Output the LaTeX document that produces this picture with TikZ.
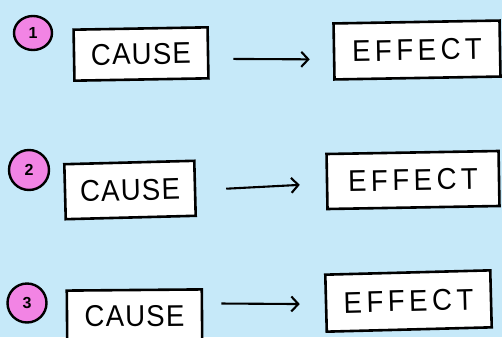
\documentclass[tikz,border=0pt]{standalone}
\usepackage{fontspec}
\setmainfont{Liberation Sans}
\newfontfamily\causefont[LetterSpace=4,FakeStretch=0.92]{Liberation Sans}
\newfontfamily\effectfont[LetterSpace=15,FakeStretch=0.92]{Liberation Sans}
\usetikzlibrary{arrows.meta,shapes.geometric}
\definecolor{bgblue}{HTML}{C6E9F9}
\definecolor{pinkc}{HTML}{F284E4}
\begin{document}
\begin{tikzpicture}[x=1pt,y=-1pt,
  box/.style={draw=black, fill=white, line width=2.6pt, rectangle, inner sep=0pt},
  causebox/.style={box, font=\causefont\fontsize{30}{32}\selectfont},
  effectbox/.style={box, font=\effectfont\fontsize{30}{32}\selectfont},
  num/.style={draw=black, fill=pinkc, line width=2.4pt, circle, inner sep=0pt,
    font=\bfseries\fontsize{16}{17}\selectfont},
  arr/.style={line width=2.1pt, -{Straight Barb[length=7pt,width=15pt,line width=2.1pt]}}]
\fill[bgblue] (0,0) rectangle (502,337);
\useasboundingbox (0,0) rectangle (502,337);
% numbers
\node[num, ellipse, minimum width=38pt, minimum height=34pt] (n1) at (33,33) {1};
\node[num, minimum size=40pt] (n2) at (29,170) {2};
\node[num, minimum size=39pt] (n3) at (27,303) {3};
% row 1
\node[causebox, minimum width=134pt, minimum height=51pt, rotate=1] (c1) at (141,54) {CAUSE};
\node[effectbox, minimum width=166pt, minimum height=56pt, rotate=1] (e1) at (417,50) {EFFECT};
% row 2
\node[causebox, minimum width=130pt, minimum height=55pt, rotate=1.5] (c2) at (130,190) {CAUSE};
\node[effectbox, minimum width=172pt, minimum height=55pt, rotate=1] (e2) at (413,180) {EFFECT};
% row 3
\node[causebox, minimum width=135pt, minimum height=52pt, rotate=0.5] (c3) at (134.5,316) {CAUSE};
\node[effectbox, minimum width=165pt, minimum height=57pt, rotate=1.5] (e3) at (408.5,301) {EFFECT};
% arrows
\draw[arr, shorten <=24pt, shorten >=23pt] ([yshift=-6pt]c1.east) -- ([yshift=-8pt]e1.west);
\draw[arr, shorten <=30pt, shorten >=26pt] ([yshift=-2pt]c2.east) -- ([yshift=-2pt]e2.west);
\draw[arr, shorten <=18pt, shorten >=25pt] ([yshift=12pt]c3.east) -- ([yshift=-1pt]e3.west);
\end{tikzpicture}
\end{document}
